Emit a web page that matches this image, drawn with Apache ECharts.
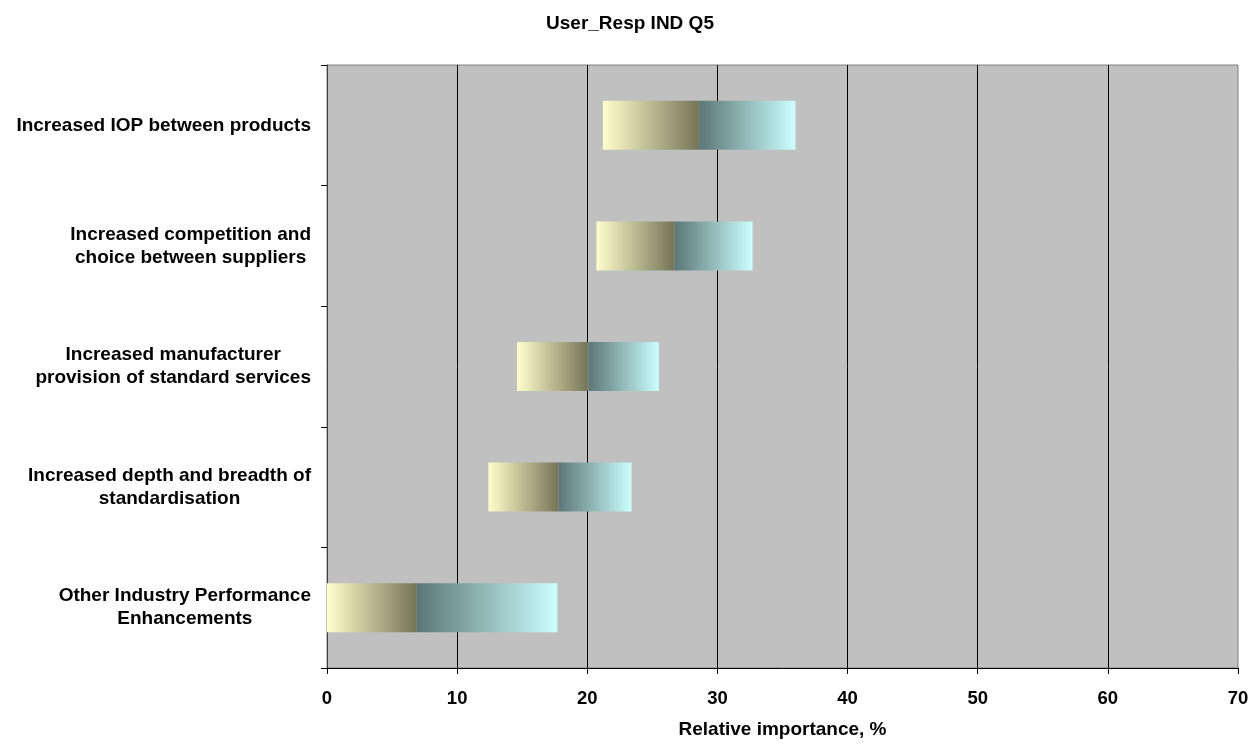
<!DOCTYPE html>
<html>
<head>
<meta charset="utf-8">
<script src="https://cdn.jsdelivr.net/npm/echarts@6/dist/echarts.min.js"></script>
<style>
html,body{margin:0;padding:0;background:#fff;}
#c{width:1260px;height:745px;}
</style>
</head>
<body>
<div id="c"></div>
<script>
// Data (top to bottom)
var categories = [
  "Increased IOP between products",
  "Increased competition and\nchoice between suppliers",
  "Increased manufacturer\nprovision of standard services",
  "Increased depth and breadth of\nstandardisation",
  "Other Industry Performance\nEnhancements"
];
var lowValues  = [21.2, 20.7, 14.6, 12.4, 0.0];
var midValues  = [28.6, 26.7, 20.1, 17.8, 6.9];
var highValues = [36.0, 32.7, 25.5, 23.4, 17.7];
var xTicks = [0, 10, 20, 30, 40, 50, 60, 70];

var FONT = '"Liberation Sans", Arial, sans-serif';

var baseData = lowValues.slice();
var lowerSeg = midValues.map(function (m, i) { return +(m - lowValues[i]).toFixed(2); });
var upperSeg = highValues.map(function (h, i) { return +(h - midValues[i]).toFixed(2); });

var gradLow = new echarts.graphic.LinearGradient(0, 0, 1, 0, [
  { offset: 0, color: '#FFFFCC' },
  { offset: 1, color: '#747457' }
]);
var gradHigh = new echarts.graphic.LinearGradient(0, 0, 1, 0, [
  { offset: 0, color: '#5C7676' },
  { offset: 1, color: '#CCFFFF' }
]);

var chart = echarts.init(document.getElementById('c'), null, { renderer: 'canvas' });
chart.setOption({
  animation: false,
  backgroundColor: '#ffffff',
  title: {
    text: 'User_Resp IND Q5',
    left: 'center',
    top: 9,
    textStyle: { fontFamily: FONT, fontWeight: 'bold', fontSize: 19, color: '#000' }
  },
  grid: {
    left: 327, right: 22, top: 65, bottom: 77,
    show: true,
    backgroundColor: '#C0C0C0',
    borderColor: '#808080',
    borderWidth: 1
  },
  xAxis: {
    type: 'value',
    min: xTicks[0],
    max: xTicks[xTicks.length - 1],
    interval: 10,
    name: 'Relative importance, %',
    nameLocation: 'middle',
    nameGap: 52,
    nameTextStyle: { fontFamily: FONT, fontWeight: 'bold', fontSize: 19, color: '#000' },
    axisLine: { show: true, lineStyle: { color: '#000', width: 1 } },
    axisTick: { show: true, length: 6, lineStyle: { color: '#000' } },
    axisLabel: { margin: 21, fontFamily: FONT, fontWeight: 'bold', fontSize: 18.5, color: '#000' },
    splitLine: { show: true, showMinLine: false, showMaxLine: false, lineStyle: { color: '#000', width: 1 } }
  },
  yAxis: {
    type: 'category',
    data: categories,
    inverse: true,
    axisLine: { show: true, lineStyle: { color: '#404040', width: 1 } },
    axisTick: { show: true, length: 6, inside: false, lineStyle: { color: '#000' } },
    axisLabel: {
      margin: 16,
      align: 'right',
      formatter: function (v) {
        return v.split('\n').map(function (s) { return '{c|' + s + '}'; }).join('\n');
      },
      rich: {
        c: { align: 'center', fontFamily: FONT, fontWeight: 'bold', fontSize: 19, color: '#000', lineHeight: 23 }
      }
    },
    splitLine: { show: false }
  },
  series: [
    {
      name: 'base', type: 'bar', stack: 'r', data: baseData,
      barWidth: 49, silent: true,
      itemStyle: { color: 'rgba(0,0,0,0)' }
    },
    {
      name: 'low', type: 'bar', stack: 'r', data: lowerSeg,
      barWidth: 49,
      itemStyle: { color: gradLow }
    },
    {
      name: 'high', type: 'bar', stack: 'r', data: upperSeg,
      barWidth: 49,
      itemStyle: { color: gradHigh }
    }
  ]
});
</script>
</body>
</html>
